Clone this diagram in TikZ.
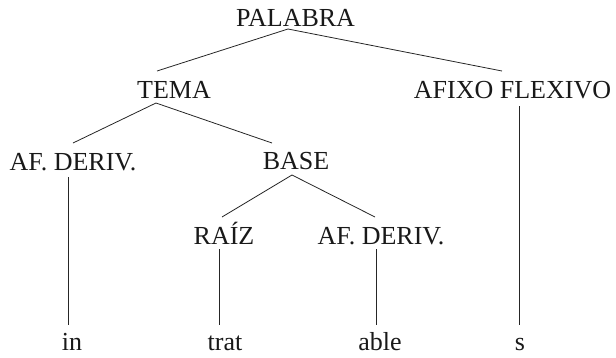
\documentclass[tikz,border=0pt]{standalone}
\usepackage{fontspec}
\setmainfont{Liberation Serif}
\newfontfamily\tmsfont{Liberation Serif}
\begin{document}
\begin{tikzpicture}[x=1pt,y=-1pt,
  lab/.style={anchor=base,inner sep=0pt,font=\tmsfont\fontsize{26}{30}\selectfont,text=black!90},
  edge/.style={draw=black!85,line width=0.8pt}]
\useasboundingbox (0,0) rectangle (616,357);
% labels
\node[lab] (palabra) at (295.5,26) {PALABRA};
\node[lab] (tema) at (174,98) {TEMA};
\node[lab] (afixo) at (512.5,98) {AFIXO FLEXIVO};
\node[lab] (afd1) at (73,170) {AF. DERIV.};
\node[lab] (base) at (296,169) {BASE};
\node[lab] (raiz) at (224,244) {RAÍZ};
\node[lab] (afd2) at (381,244) {AF. DERIV.};
\node[lab] (in) at (72,350) {in};
\node[lab] (trat) at (225,350) {trat};
\node[lab] (able) at (380,350) {able};
\node[lab] (s) at (520,350) {s};
% attachment points
\coordinate (palabra-b) at (288,29);
\coordinate (tema-t) at (157,71);
\coordinate (afixo-t) at (502,71);
\coordinate (tema-b) at (156,103);
\coordinate (afd1-t) at (73,143);
\coordinate (base-t) at (272,143);
\coordinate (base-b) at (292,175);
\coordinate (raiz-t) at (222,217);
\coordinate (afd2-t) at (375,217);
\coordinate (afixo-b) at (519,106);
\coordinate (s-t) at (519,325);
\coordinate (afd1-b) at (68,177);
\coordinate (in-t) at (68,325);
\coordinate (raiz-b) at (219,249);
\coordinate (trat-t) at (219,325);
\coordinate (afd2-b) at (376,249);
\coordinate (able-t) at (376,325);
% edges
\draw[edge] (tema-t) -- (palabra-b) -- (afixo-t);
\draw[edge] (afd1-t) -- (tema-b) -- (base-t);
\draw[edge] (raiz-t) -- (base-b) -- (afd2-t);
\draw[edge] (afixo-b) -- (s-t);
\draw[edge] (afd1-b) -- (in-t);
\draw[edge] (raiz-b) -- (trat-t);
\draw[edge] (afd2-b) -- (able-t);
\end{tikzpicture}
\end{document}
